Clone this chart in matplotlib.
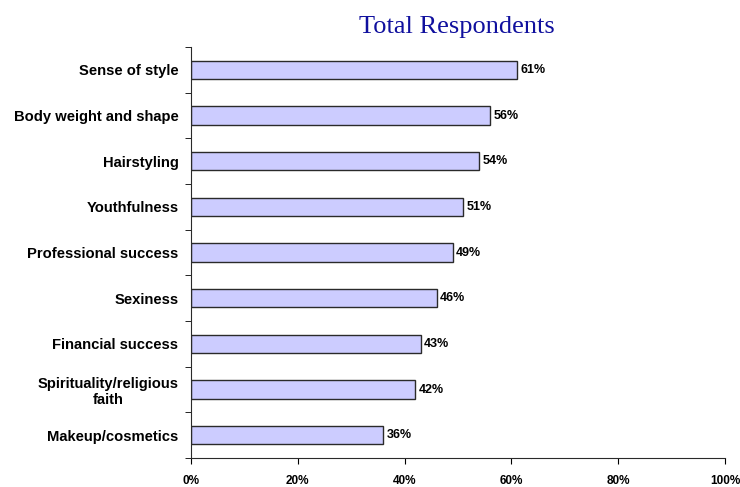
import matplotlib.pyplot as plt
import numpy as np

categories = ["Sense of style", "Body weight and shape", "Hairstyling", "Youthfulness",
              "Professional success", "Sexiness", "Financial success",
              "Spirituality/religious\nfaith", "Makeup/cosmetics"]
values = [61, 56, 54, 51, 49, 46, 43, 42, 36]
xticks = [0, 20, 40, 60, 80, 100]

plt.rcParams['font.family'] = ['Liberation Sans', 'DejaVu Sans']

fig = plt.figure(figsize=(7.4, 4.87), dpi=100)
ax = fig.add_axes([0.258, 0.0595, 0.722, 0.844])

pos = np.arange(len(categories))
ax.barh(pos, values, height=0.4, color='#CCCCFF', edgecolor='#2a2a2a', linewidth=1)
for p, v in zip(pos, values):
    ax.text(v + 0.6, p, f"{v}%", va='center', ha='left', fontsize=9, fontweight='bold')

ax.set_ylim(len(categories) - 0.5, -0.5)
ax.set_xlim(0, 100)
ax.set_yticks(pos)
ax.set_yticklabels(categories, fontsize=10.6, fontweight='bold', multialignment='center')
ax.set_yticks(np.arange(-0.5, len(categories)), minor=True)
ax.tick_params(axis='y', which='major', length=0, pad=9)
ax.tick_params(axis='y', which='minor', length=4, direction='out')
ax.set_xticks(xticks)
ax.set_xticklabels([f"{t}%" for t in xticks], fontsize=8.5, fontweight='bold')
ax.tick_params(axis='x', length=4, direction='out', pad=8)

for s in ['top', 'right']:
    ax.spines[s].set_visible(False)
ax.spines['left'].set_color('#2a2a2a')
ax.spines['bottom'].set_color('#2a2a2a')

fig.text(0.618, 0.922, "Total Respondents", ha='center', va='bottom',
         fontsize=19, color='#10109E', family='Liberation Serif')

fig.savefig('out.png', dpi=100)
